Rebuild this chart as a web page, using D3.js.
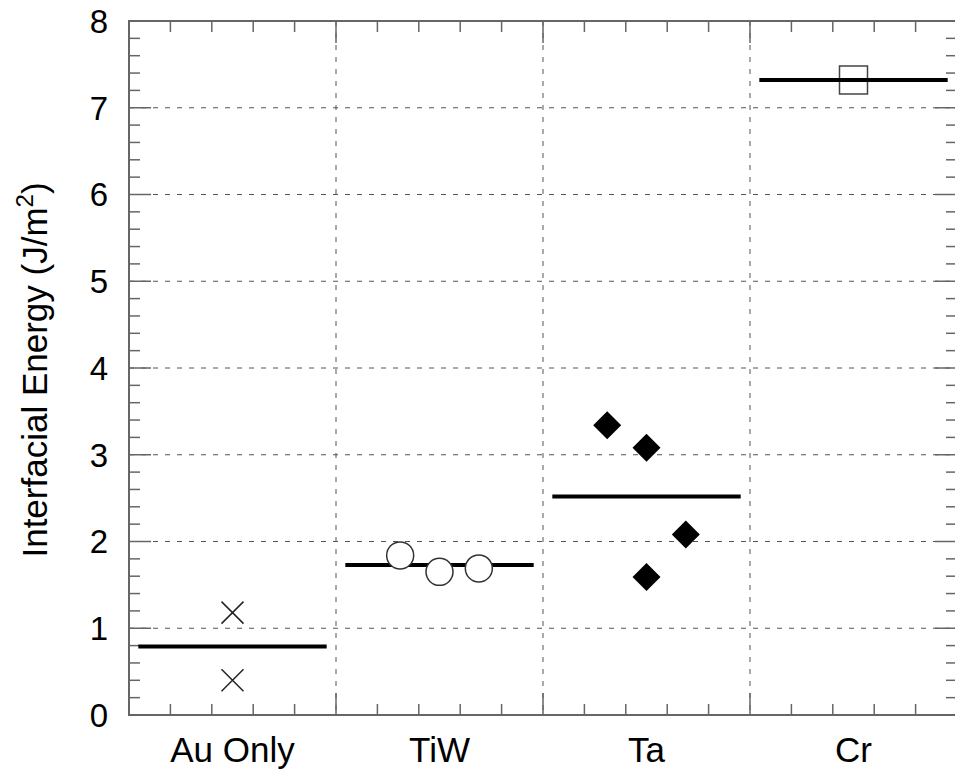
<!DOCTYPE html>
<html>
<head>
<meta charset="utf-8">
<script src="https://cdn.jsdelivr.net/npm/d3@7"></script>
<style>
  body { margin: 0; background: #fff; }
  svg { display: block; font-family: "Liberation Sans", Arial, sans-serif; }
</style>
</head>
<body>
<svg id="chart" width="955" height="776"></svg>
<script>
const categories = ['Au Only', 'TiW', 'Ta', 'Cr']
const markers = ['cross', 'circle', 'diamond', 'square']
// individual measurements per category, slot = position inside the group (-1, 0, 1)
const pointValues = [
    [1.18, 0.40],
    [1.84, 1.65, 1.69],
    [3.34, 3.08, 2.08, 1.59],
    [7.32]
]
const pointSlots = [
    [0, 0],
    [-1, 0, 1],
    [-1, 0, 1, 0],
    [0]
]
const meanValues = [0.79, 1.73, 2.52, 7.32]
const yTicks = [0, 1, 2, 3, 4, 5, 6, 7, 8]

const svg = d3.select('#chart')
const margin = { left: 129, top: 21, right: 957, bottom: 715 }

const x = d3.scaleBand().domain(categories).range([margin.left, margin.right]).padding(0)
const xLin = d3.scaleLinear().domain([0, categories.length]).range([margin.left, margin.right])
const y = d3.scaleLinear().domain([0, 8]).range([margin.bottom, margin.top])
const slotW = x.bandwidth() * 0.19

const axisColor = '#666'
const gridColor = '#555'

// grid
const grid = svg.append('g')
grid.selectAll('line.h').data(yTicks.slice(1, -1)).join('line')
    .attr('x1', margin.left).attr('x2', margin.right)
    .attr('y1', d => y(d)).attr('y2', d => y(d))
    .attr('stroke', gridColor).attr('stroke-width', 1).attr('stroke-dasharray', '5,7')
grid.selectAll('line.v').data(d3.range(1, categories.length)).join('line')
    .attr('x1', d => xLin(d)).attr('x2', d => xLin(d))
    .attr('y1', margin.top).attr('y2', margin.bottom)
    .attr('stroke', gridColor).attr('stroke-width', 1).attr('stroke-dasharray', '5,7')

// frame
svg.append('rect')
    .attr('x', margin.left).attr('y', margin.top)
    .attr('width', margin.right - margin.left).attr('height', margin.bottom - margin.top)
    .attr('fill', 'none').attr('stroke', axisColor).attr('stroke-width', 2)

// ticks, all pointing inward
const yMinor = d3.range(0, 40).map(i => i / 5)
const ticks = svg.append('g').attr('stroke', axisColor).attr('stroke-width', 1.5)
ticks.selectAll('line.yl').data(yMinor).join('line')
    .attr('x1', margin.left).attr('x2', d => margin.left + (Number.isInteger(d) ? 22 : 11))
    .attr('y1', d => y(d)).attr('y2', d => y(d))
ticks.selectAll('line.yr').data(yMinor).join('line')
    .attr('x1', margin.right).attr('x2', d => margin.right - (Number.isInteger(d) ? 22 : 11))
    .attr('y1', d => y(d)).attr('y2', d => y(d))
const xMinor = d3.range(0, categories.length * 5).map(i => i / 5)
ticks.selectAll('line.xb').data(xMinor).join('line')
    .attr('x1', d => xLin(d)).attr('x2', d => xLin(d))
    .attr('y1', margin.bottom).attr('y2', d => margin.bottom - (Number.isInteger(d) ? 22 : 11))
ticks.selectAll('line.xt').data(xMinor).join('line')
    .attr('x1', d => xLin(d)).attr('x2', d => xLin(d))
    .attr('y1', margin.top).attr('y2', d => margin.top + (Number.isInteger(d) ? 22 : 11))

// tick labels
svg.append('g').selectAll('text').data(yTicks).join('text')
    .attr('x', 108).attr('y', d => y(d))
    .attr('dy', '0.36em')
    .attr('text-anchor', 'end')
    .attr('font-size', 33)
    .text(d => d)
svg.append('g').selectAll('text').data(categories).join('text')
    .attr('x', d => x(d) + x.bandwidth() / 2).attr('y', 762)
    .attr('text-anchor', 'middle')
    .attr('font-size', 35)
    .text(d => d)

// y label
const yl = svg.append('text')
    .attr('transform', `translate(47, ${(margin.top + margin.bottom) / 2 + 2}) rotate(-90)`)
    .attr('text-anchor', 'middle')
    .attr('font-size', 35)
yl.append('tspan').text('Interfacial Energy (J/m')
yl.append('tspan').attr('font-size', 24).attr('dy', -14).text('2')
yl.append('tspan').attr('dy', 14).text(')')

const plot = svg.append('g')
const inset = x.bandwidth() * 0.045

// Cr square sits under its mean line
categories.forEach((c, i) => {
    if (markers[i] !== 'square') return
    pointValues[i].forEach((v, j) => {
        const cx = x(c) + x.bandwidth() / 2 + pointSlots[i][j] * slotW
        plot.append('rect')
            .attr('x', cx - 14).attr('y', y(v) - 14)
            .attr('width', 28).attr('height', 28)
            .attr('fill', '#fff').attr('stroke', '#444').attr('stroke-width', 1.5)
    })
})

// mean lines
plot.selectAll('line.mean').data(meanValues).join('line')
    .attr('x1', (d, i) => x(categories[i]) + inset)
    .attr('x2', (d, i) => x(categories[i]) + x.bandwidth() - inset)
    .attr('y1', d => y(d)).attr('y2', d => y(d))
    .attr('stroke', '#000').attr('stroke-width', 4)

categories.forEach((c, i) => {
    const m = markers[i]
    if (m === 'square') return
    pointValues[i].forEach((v, j) => {
        const cx = x(c) + x.bandwidth() / 2 + pointSlots[i][j] * slotW
        const cy = y(v)
        if (m === 'cross') {
            plot.append('path')
                .attr('d', `M${cx - 11},${cy - 11}L${cx + 11},${cy + 11}M${cx - 11},${cy + 11}L${cx + 11},${cy - 11}`)
                .attr('stroke', '#222').attr('stroke-width', 1.5)
        } else if (m === 'circle') {
            plot.append('circle')
                .attr('cx', cx).attr('cy', cy).attr('r', 13.5)
                .attr('fill', '#fff').attr('stroke', '#333').attr('stroke-width', 1.5)
        } else if (m === 'diamond') {
            plot.append('path')
                .attr('d', `M${cx},${cy - 14}L${cx + 14},${cy}L${cx},${cy + 14}L${cx - 14},${cy}Z`)
                .attr('fill', '#000')
        }
    })
})
</script>
</body>
</html>
